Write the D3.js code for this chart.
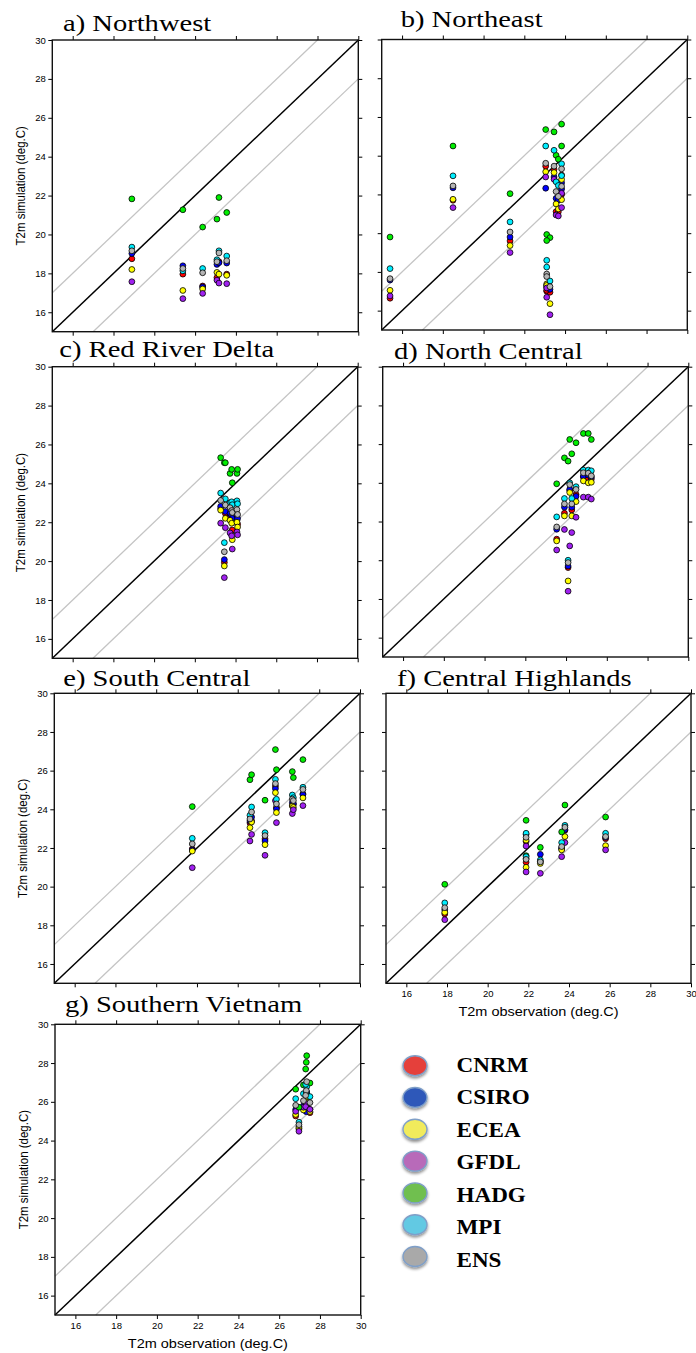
<!DOCTYPE html>
<html>
<head>
<meta charset="utf-8">
<script src="https://cdn.jsdelivr.net/npm/d3@7"></script>
<style>
  body { margin: 0; background: #fff; }
  svg { display: block; }
</style>
</head>
<body>
<svg id="chart" width="696" height="1353"></svg>
<script>
// Models, in drawing order
const models = ["CNRM", "CSIRO", "ECEA", "GFDL", "HADG", "MPI", "ENS"];
const markerColors = ["#ff0000", "#0000ff", "#ffff00", "#a020f0", "#00ee00", "#00eeff", "#b4b4b4"];
const legendColors = ["#e5413a", "#2f58b9", "#f1eb5c", "#b86ab9", "#6fbf4f", "#62c9e3", "#a9a9a9"];

const regionTitles = ["a) Northwest", "b) Northeast", "c) Red River Delta", "d) North Central",
                      "e) South Central", "f) Central Highlands", "g) Southern Vietnam"];
const tickValues = [16, 18, 20, 22, 24, 26, 28, 30];
const axisDomain = [15, 30];

// Station observations (x) and simulated T2m per model (rows follow `models`)
const nwObs = [18.9, 21.4, 22.37, 23.07, 23.17, 23.55];
const nwSim = [
  [18.75, 17.96, 17.35, 17.78, 18.6, 17.96],
  [19.02, 18.39, 17.3, 18.46, 18.55, 18.53],
  [18.2, 17.12, 17.2, 18.05, 17.96, 17.9],
  [17.57, 16.7, 16.97, 17.65, 17.5, 17.47],
  [21.83, 21.27, 20.38, 20.79, 21.9, 21.13],
  [19.35, 18.13, 18.25, 18.7, 19.16, 18.89],
  [19.16, 18.25, 18.03, 18.6, 19.05, 18.65]
];

const neObs = [15.41, 18.5, 21.3, 23.05, 23.46, 23.83, 23.83, 23.56, 23.67, 23.1, 23.26, 23.1];
const neSim = [
  [16.64, 21.7, 19.6, 23.46, 23.3, 23.0, 22.0, 21.11, 21.1, 17.0, 16.95, 17.05],
  [17.58, 22.34, 19.8, 22.32, 22.9, 22.6, 22.28, 21.8, 21.7, 17.2, 17.1, 17.3],
  [17.05, 21.75, 19.36, 23.17, 23.13, 22.77, 21.73, 21.51, 21.25, 17.38, 16.36, 17.3],
  [16.76, 21.32, 19.0, 22.9, 22.78, 22.06, 21.32, 20.94, 20.89, 17.17, 15.79, 16.69],
  [19.8, 24.5, 22.04, 25.35, 25.23, 25.63, 24.5, 24.02, 23.82, 19.93, 19.77, 19.62],
  [18.17, 22.96, 20.58, 24.5, 24.28, 23.58, 22.97, 22.65, 22.46, 18.6, 17.53, 18.25],
  [17.65, 22.44, 20.06, 23.61, 23.46, 23.32, 22.42, 22.15, 21.9, 17.89, 17.24, 17.76]
];

const rrdObs = [23.27, 23.45, 23.5, 23.73, 23.81, 23.84, 24.07, 24.1];
const rrdSim = [
  [22.7, 19.93, 22.45, 22.3, 22.2, 21.6, 22.1, 21.9],
  [22.82, 20.08, 22.55, 22.45, 22.35, 22.2, 22.35, 22.2],
  [22.62, 19.75, 22.2, 22.1, 21.95, 21.1, 22.0, 21.75],
  [21.95, 19.15, 21.72, 21.45, 21.3, 20.62, 21.5, 21.35],
  [25.32, 25.06, 25.06, 24.51, 24.72, 24.03, 24.51, 24.72],
  [23.5, 20.95, 23.2, 23.0, 23.05, 22.9, 23.1, 22.95],
  [23.12, 20.48, 22.88, 22.75, 22.6, 22.5, 22.65, 22.4]
];

const ncObs = [23.54, 23.92, 24.1, 24.18, 24.28, 24.49, 24.85, 25.09, 25.24];
const ncSim = [
  [21.09, 22.43, 19.62, 23.6, 22.6, 23.4, 24.3, 24.25, 24.2],
  [21.6, 22.74, 19.7, 23.67, 22.74, 23.3, 24.34, 24.4, 24.3],
  [21.0, 22.29, 18.93, 23.5, 22.29, 23.03, 24.1, 24.0, 24.03],
  [20.53, 21.59, 18.4, 20.74, 21.43, 22.22, 23.26, 23.26, 23.16],
  [23.95, 25.29, 25.12, 26.24, 25.5, 26.07, 26.55, 26.55, 26.24],
  [22.24, 23.19, 20.0, 24.0, 23.19, 23.8, 24.66, 24.66, 24.62],
  [21.72, 22.91, 19.88, 23.91, 22.91, 23.66, 24.52, 24.5, 24.36]
];

const scObs = [21.77, 24.6, 24.68, 25.34, 25.85, 25.9, 26.68, 26.73, 27.2];
const scSim = [
  [21.95, 23.3, 23.4, 22.47, 25.2, 24.1, 24.2, 24.25, 24.8],
  [21.9, 23.4, 23.6, 22.36, 25.07, 24.02, 24.35, 24.3, 24.76],
  [21.84, 23.05, 23.34, 22.17, 24.86, 23.83, 24.17, 24.1, 24.59],
  [20.98, 22.36, 22.7, 21.62, 24.45, 23.31, 23.78, 23.98, 24.19],
  [24.14, 25.53, 25.79, 24.47, 27.09, 26.05, 25.95, 25.64, 26.57],
  [22.5, 23.69, 24.12, 22.79, 25.55, 24.52, 24.74, 24.6, 25.14],
  [22.21, 23.5, 23.86, 22.64, 25.33, 24.28, 24.53, 24.45, 25.03]
];

const chObs = [17.89, 21.89, 21.89, 22.59, 23.64, 23.8, 25.8];
const chSim = [
  [18.59, 22.33, 21.26, 21.3, 21.95, 22.91, 22.48],
  [18.8, 22.7, 21.45, 21.67, 22.0, 22.95, 22.55],
  [18.67, 22.4, 21.0, 21.2, 21.9, 22.59, 22.12],
  [18.29, 22.1, 20.76, 20.69, 21.55, 22.28, 21.9],
  [20.12, 23.43, 21.6, 22.03, 22.83, 24.22, 23.6],
  [19.16, 22.76, 21.55, 21.38, 22.28, 23.17, 22.76],
  [18.91, 22.55, 21.41, 21.28, 22.07, 23.07, 22.59]
];

const svObs = [26.81, 26.97, 27.19, 27.35, 27.33, 27.3, 27.51];
const svSim = [
  [25.27, 24.6, 25.7, 26.4, 25.6, 26.0, 25.44],
  [25.6, 24.72, 25.8, 26.5, 25.49, 26.1, 25.6],
  [25.35, 24.65, 25.58, 26.2, 25.8, 26.0, 25.5],
  [25.51, 24.48, 25.72, 25.72, 25.9, 25.75, 25.61],
  [26.65, 25.72, 26.87, 28.38, 28.04, 27.69, 26.97],
  [26.16, 24.95, 26.42, 26.78, 26.5, 26.9, 26.27],
  [25.82, 24.82, 26.06, 27.04, 26.58, 26.33, 25.96]
];

const panelObs = [nwObs, neObs, rrdObs, ncObs, scObs, chObs, svObs];
const panelSim = [nwSim, neSim, rrdSim, ncSim, scSim, chSim, svSim];

// Panel frames: left, top, right, bottom, title x, title baseline, y labels, x labels
const layout = [
  {l: 52.3, t: 40,    r: 358.3, b: 331.7, tx: 63,    ty: 31,    yl: true,  xl: false},
  {l: 381.7, t: 39.5, r: 687.3, b: 330,   tx: 400.7, ty: 26.7,  yl: false, xl: false},
  {l: 52.3, t: 366.7, r: 357.7, b: 658.3, tx: 59.3,  ty: 356.7, yl: true,  xl: false},
  {l: 382.7, t: 366.7, r: 688.3, b: 657,  tx: 394,   ty: 359.3, yl: false, xl: false},
  {l: 54.3, t: 693.3, r: 360,   b: 983.3, tx: 63.3,  ty: 686,   yl: true,  xl: false},
  {l: 386,  t: 693.3, r: 691,   b: 983.3, tx: 397,   ty: 686,   yl: false, xl: true},
  {l: 55,   t: 1024.3, r: 360.7, b: 1315, tx: 65,    ty: 1011.7, yl: true, xl: true}
];

const svg = d3.select("#chart");
const sansFont = "'Liberation Sans', Arial, Helvetica, sans-serif";
const serifFont = "'Liberation Serif', 'Times New Roman', serif";

function stretchedText(sel, x, y, str, sx) {
  return sel.append("text")
    .attr("transform", `translate(${x},${y}) scale(${sx},1)`)
    .text(str);
}

layout.forEach((p, i) => {
  const w = p.r - p.l, h = p.b - p.t;
  const x = d3.scaleLinear().domain(axisDomain).range([0, w]);
  const y = d3.scaleLinear().domain(axisDomain).range([h, 0]);
  const g = svg.append("g").attr("transform", `translate(${p.l},${p.t})`);

  // reference lines: ±2 °C (grey) and 1:1 (black)
  const lo = axisDomain[0], hi = axisDomain[1];
  const refs = [
    {pts: [[lo, lo + 2], [hi - 2, hi]], color: "#c4c4c4", width: 1.3},
    {pts: [[lo + 2, lo], [hi, hi - 2]], color: "#c4c4c4", width: 1.3},
    {pts: [[lo, lo], [hi, hi]], color: "#000", width: 1.5}
  ];
  const line = d3.line().x(d => x(d[0])).y(d => y(d[1]));
  refs.forEach(r => {
    g.append("path").attr("d", line(r.pts))
      .attr("fill", "none").attr("stroke", r.color).attr("stroke-width", r.width);
  });

  // markers
  const obs = panelObs[i], sim = panelSim[i];
  sim.forEach((row, m) => {
    g.append("g").selectAll("circle").data(row).join("circle")
      .attr("cx", (d, k) => x(obs[k]))
      .attr("cy", d => y(d))
      .attr("r", 2.9)
      .attr("fill", markerColors[m])
      .attr("stroke", "#000")
      .attr("stroke-width", 0.8);
  });

  // axes (ticks outward on all four sides)
  const styleAxis = a => {
    a.select(".domain").remove();
    a.selectAll(".tick line").attr("stroke", "#000").attr("stroke-width", 1);
    a.selectAll(".tick text").attr("font-family", sansFont).attr("font-size", 9.5).attr("fill", "#000");
  };
  g.append("g").call(d3.axisLeft(y).tickValues(tickValues).tickSize(4).tickPadding(2.5)
      .tickFormat(p.yl ? d3.format("d") : () => "")).call(styleAxis);
  g.append("g").attr("transform", `translate(${w},0)`)
    .call(d3.axisRight(y).tickValues(tickValues).tickSize(4).tickFormat(() => "")).call(styleAxis);
  g.append("g").call(d3.axisTop(x).tickValues(tickValues).tickSize(4).tickFormat(() => "")).call(styleAxis);
  g.append("g").attr("transform", `translate(0,${h})`)
    .call(d3.axisBottom(x).tickValues(tickValues).tickSize(4).tickPadding(3)
      .tickFormat(p.xl ? d3.format("d") : () => "")).call(styleAxis);

  // frame
  g.append("rect").attr("width", w).attr("height", h)
    .attr("fill", "none").attr("stroke", "#111").attr("stroke-width", 1.4);

  // panel title
  stretchedText(svg, p.tx, p.ty, regionTitles[i], 1.19)
    .attr("font-family", serifFont).attr("font-size", 24).attr("fill", "#000");

  // axis titles
  if (p.yl) {
    svg.append("text")
      .attr("transform", `translate(${p.l - 27},${p.t + h / 2}) rotate(-90) scale(1,1.15)`)
      .attr("text-anchor", "middle")
      .attr("font-family", sansFont).attr("font-size", 11.5).attr("fill", "#000")
      .text("T2m simulation (deg.C)");
  }
  if (p.xl) {
    stretchedText(svg, p.l + w / 2, p.b + 33, "T2m observation (deg.C)", 1.16)
      .attr("text-anchor", "middle")
      .attr("font-family", sansFont).attr("font-size", 12.5).attr("fill", "#000");
  }
});

// legend
const defs = svg.append("defs");
const shadow = defs.append("filter").attr("id", "soft").attr("x", "-50%").attr("y", "-50%")
  .attr("width", "200%").attr("height", "200%");
shadow.append("feGaussianBlur").attr("in", "SourceAlpha").attr("stdDeviation", 1.6).attr("result", "b");
shadow.append("feOffset").attr("in", "b").attr("dx", -0.5).attr("dy", 1.6).attr("result", "o");
shadow.append("feComponentTransfer").attr("in", "o").attr("result", "s")
  .append("feFuncA").attr("type", "linear").attr("slope", 0.45);
const merge = shadow.append("feMerge");
merge.append("feMergeNode").attr("in", "s");
merge.append("feMergeNode").attr("in", "SourceGraphic");

const legend = svg.append("g");
models.forEach((name, i) => {
  legend.append("ellipse")
    .attr("cx", 415).attr("cy", 1065.7 + i * 31.8)
    .attr("rx", 12).attr("ry", 10)
    .attr("fill", legendColors[i])
    .attr("stroke", "#7f9fc8").attr("stroke-width", 1.4)
    .attr("filter", "url(#soft)");
  stretchedText(legend, 456.5, 1071.7 + i * 32.5, name, 1.05)
    .attr("font-family", serifFont).attr("font-weight", "bold")
    .attr("font-size", 22).attr("fill", "#000");
});
</script>
</body>
</html>
